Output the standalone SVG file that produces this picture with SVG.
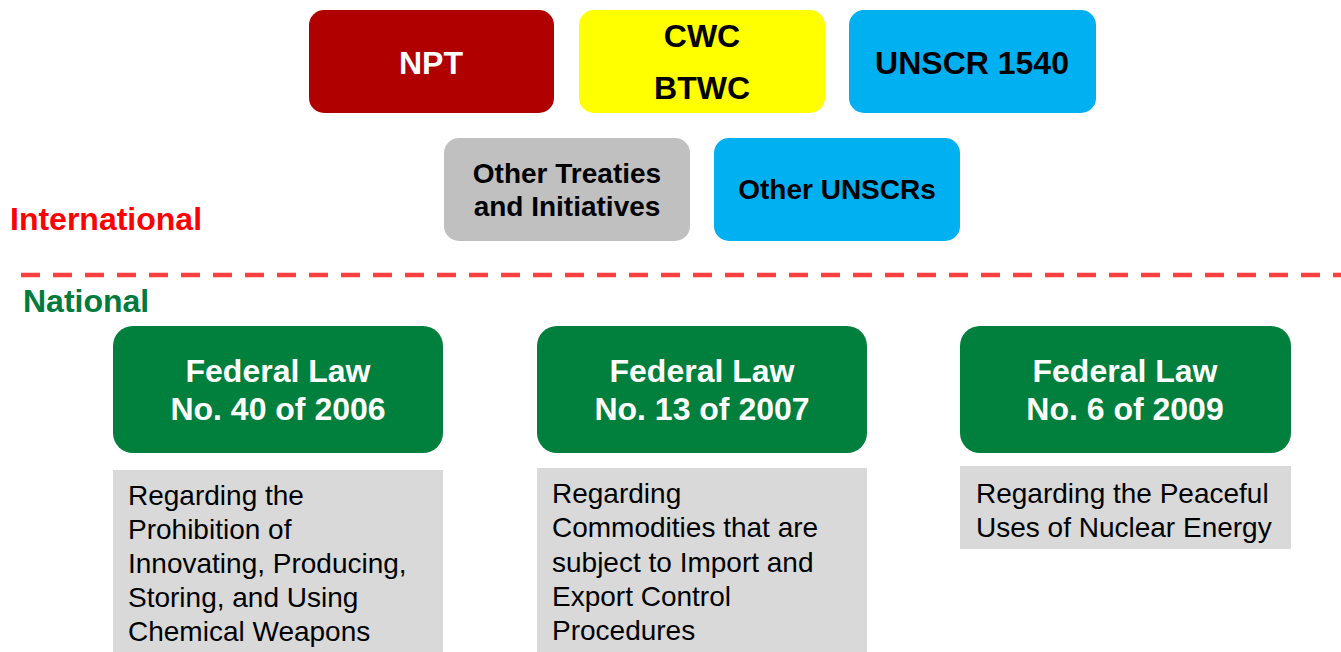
<svg xmlns="http://www.w3.org/2000/svg" width="1341" height="652" viewBox="0 0 1341 652">
<style>
text{font-family:"Liberation Sans",Arial,sans-serif}
.b{font-weight:bold;text-anchor:middle}
.t32{font-size:32px}
.t28{font-size:28px}
.w{fill:#ffffff}
.k{fill:#000000}
.law{fill:#007f3d}
.desc{fill:#d9d9d9}
.dt{font-size:28px;fill:#000000}
</style>
<rect width="1341" height="652" fill="#ffffff"/>
<g id="connectors">
<line x1="21" y1="275" x2="1341" y2="275" stroke="#ff4040" stroke-width="4.5" stroke-dasharray="19 13"/>
</g>
<g id="label-international"><text x="10" y="230" class="t32" font-weight="bold" fill="#ff0000">International</text></g>
<g id="label-national"><text x="23" y="312" class="t32" font-weight="bold" fill="#007a3d">National</text></g>
<g id="npt"><rect x="309" y="10" width="245" height="103" rx="15" fill="#b00000"/><text x="431" y="74" class="b t32 w">NPT</text></g>
<g id="cwc"><rect x="579" y="10" width="246" height="103" rx="15" fill="#ffff00"/><text x="702" y="47" class="b t32 k">CWC</text><text x="702" y="99" class="b t32 k">BTWC</text></g>
<g id="unscr1540"><rect x="849" y="10" width="247" height="103" rx="15" fill="#00b0f0"/><text x="972" y="74" class="b t32 k">UNSCR 1540</text></g>
<g id="other-treaties"><rect x="444" y="138" width="246" height="103" rx="15" fill="#c0c0c0"/><text x="567" y="183" class="b t28 k">Other Treaties</text><text x="567" y="216" class="b t28 k">and Initiatives</text></g>
<g id="other-unscrs"><rect x="714" y="138" width="246" height="103" rx="15" fill="#00b0f0"/><text x="837" y="199" class="b t28 k">Other UNSCRs</text></g>
<g id="law40"><rect x="113" y="326" width="330" height="127" rx="20" class="law"/><text x="278" y="382" class="b t32 w">Federal Law</text><text x="278" y="420" class="b t32 w">No. 40 of 2006</text></g>
<g id="law13"><rect x="537" y="326" width="330" height="127" rx="20" class="law"/><text x="702" y="382" class="b t32 w">Federal Law</text><text x="702" y="420" class="b t32 w">No. 13 of 2007</text></g>
<g id="law6"><rect x="960" y="326" width="331" height="127" rx="20" class="law"/><text x="1125" y="382" class="b t32 w">Federal Law</text><text x="1125" y="420" class="b t32 w">No. 6 of 2009</text></g>
<g id="desc40"><rect x="113" y="470" width="330" height="182" class="desc"/>
<text class="dt"><tspan x="128" y="505">Regarding the</tspan><tspan x="128" y="539">Prohibition of</tspan><tspan x="128" y="573">Innovating, Producing,</tspan><tspan x="128" y="607">Storing, and Using</tspan><tspan x="128" y="641">Chemical Weapons</tspan></text></g>
<g id="desc13"><rect x="537" y="468" width="330" height="184" class="desc"/>
<text class="dt"><tspan x="552" y="503">Regarding</tspan><tspan x="552" y="537">Commodities that are</tspan><tspan x="552" y="572">subject to Import and</tspan><tspan x="552" y="606">Export Control</tspan><tspan x="552" y="640">Procedures</tspan></text></g>
<g id="desc6"><rect x="960" y="466" width="331" height="83" class="desc"/>
<text class="dt"><tspan x="976" y="503">Regarding the Peaceful</tspan><tspan x="976" y="537">Uses of Nuclear Energy</tspan></text></g>
</svg>
